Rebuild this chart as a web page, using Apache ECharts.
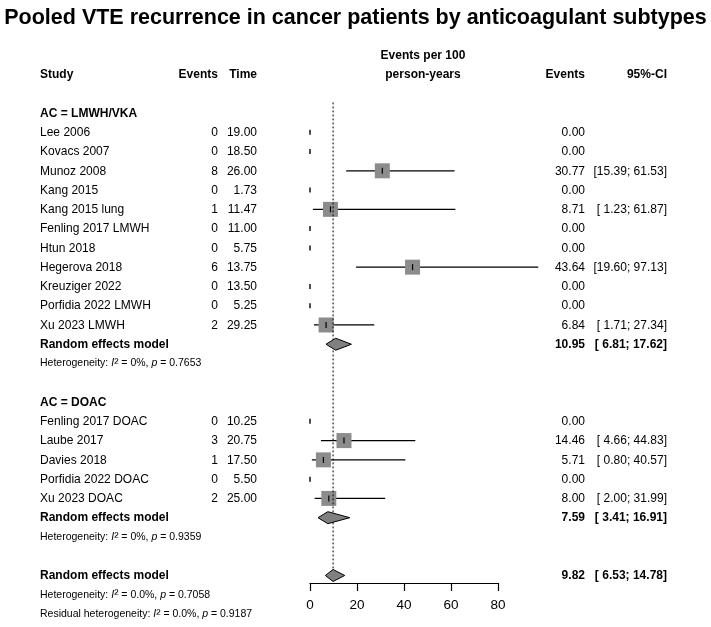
<!DOCTYPE html>
<html>
<head>
<meta charset="utf-8">
<script src="https://cdn.jsdelivr.net/npm/echarts@6/dist/echarts.min.js"></script>
<style>
  html, body { margin: 0; padding: 0; background: #fff; }
  #main { width: 711px; height: 627px; }
</style>
</head>
<body>
<div id="main"></div>
<script>
// AC = LMWH/VKA
const lmwhStudy = ['Lee 2006', 'Kovacs 2007', 'Munoz 2008', 'Kang 2015', 'Kang 2015 lung', 'Fenling 2017 LMWH',
  'Htun 2018', 'Hegerova 2018', 'Kreuziger 2022', 'Porfidia 2022 LMWH', 'Xu 2023 LMWH'];
const lmwhEvents = [0, 0, 8, 0, 1, 0, 0, 6, 0, 0, 2];
const lmwhTime = [19.00, 18.50, 26.00, 1.73, 11.47, 11.00, 5.75, 13.75, 13.50, 5.25, 29.25];
const lmwhRate = [0, 0, 30.77, 0, 8.71, 0, 0, 43.64, 0, 0, 6.84];
const lmwhLower = [null, null, 15.39, null, 1.23, null, null, 19.60, null, null, 1.71];
const lmwhUpper = [null, null, 61.53, null, 61.87, null, null, 97.13, null, null, 27.34];

// AC = DOAC
const doacStudy = ['Fenling 2017 DOAC', 'Laube 2017', 'Davies 2018', 'Porfidia 2022 DOAC', 'Xu 2023 DOAC'];
const doacEvents = [0, 3, 1, 0, 2];
const doacTime = [10.25, 20.75, 17.50, 5.50, 25.00];
const doacRate = [0, 14.46, 5.71, 0, 8.00];
const doacLower = [null, 4.66, 0.80, null, 2.00];
const doacUpper = [null, 44.83, 40.57, null, 31.99];

// pooled estimates: [rate, lower, upper]
const poolLmwh = [10.95, 6.81, 17.62];
const poolDoac = [7.59, 3.41, 16.91];
const poolAll = [9.82, 6.53, 14.78];

// heterogeneity: [I2, p]
const hetLmwh = ['0%', '0.7653'];
const hetDoac = ['0%', '0.9359'];
const hetAll = ['0.0%', '0.7058'];
const hetResid = ['0.0%', '0.9187'];

const xTicks = [0, 20, 40, 60, 80];

const FONT = '"Liberation Sans", Arial, sans-serif';
const f2 = v => v.toFixed(2);
const pad = v => (v < 10 ? ' ' : '') + f2(v);
const ci = (lo, hi) => '[' + pad(lo) + '; ' + pad(hi) + ']';

// build the rows of the table (row index = line on the plot)
let rows = [];
let marks = [];
function addGroup(start, title, study, ev, time, rate, lo, hi, pool, het) {
  rows.push({ row: start, type: 'group', label: title });
  study.forEach((s, i) => {
    const r = start + 1 + i;
    rows.push({
      row: r, type: 'study', label: s, ev: String(ev[i]), time: f2(time[i]),
      rate: f2(rate[i]), ci: lo[i] == null ? '' : ci(lo[i], hi[i])
    });
    if (lo[i] == null) marks.push({ row: r, kind: 'zero', est: rate[i] });
    else marks.push({ row: r, kind: 'study', est: rate[i], lo: lo[i], hi: hi[i] });
  });
  const pr = start + 1 + study.length;
  rows.push({ row: pr, type: 'pool', label: 'Random effects model', rate: f2(pool[0]), ci: ci(pool[1], pool[2]) });
  marks.push({ row: pr, kind: 'pool', est: pool[0], lo: pool[1], hi: pool[2] });
  rows.push({ row: pr + 1, type: 'het', pre: 'Heterogeneity: ', i2: het[0], p: het[1] });
}
addGroup(0, 'AC = LMWH/VKA', lmwhStudy, lmwhEvents, lmwhTime, lmwhRate, lmwhLower, lmwhUpper, poolLmwh, hetLmwh);
addGroup(15, 'AC = DOAC', doacStudy, doacEvents, doacTime, doacRate, doacLower, doacUpper, poolDoac, hetDoac);
rows.push({ row: 24, type: 'pool', label: 'Random effects model', rate: f2(poolAll[0]), ci: ci(poolAll[1], poolAll[2]) });
marks.push({ row: 24, kind: 'pool', est: poolAll[0], lo: poolAll[1], hi: poolAll[2] });
rows.push({ row: 25, type: 'het', pre: 'Heterogeneity: ', i2: hetAll[0], p: hetAll[1] });
rows.push({ row: 26, type: 'het', pre: 'Residual heterogeneity: ', i2: hetResid[0], p: hetResid[1] });
rows.push({ row: -2, type: 'header' });
// reference line at the overall estimate
marks.unshift({ row: -0.55, kind: 'ref', est: poolAll[0], to: 23.7 });

// column positions (px)
const COL = { study: 40, events: 218, time: 257, mid: 423, rate: 585, ci: 667 };

// the reference text is a little narrower than Liberation Sans, so squeeze it
function txt(x, y, text, align, bold) {
  return {
    type: 'text', x: x, y: y, scaleX: 0.89, originX: 0, originY: 0,
    style: {
      text: text, align: align, verticalAlign: 'middle', fill: '#000',
      fontFamily: FONT, fontSize: 13.5, fontWeight: bold ? 'bold' : 'normal'
    }
  };
}

function renderTable(params, api) {
  const r = rows[params.dataIndex];
  const y = api.coord([0, r.row])[1];
  const kids = [];
  if (r.type === 'header') {
    kids.push(txt(COL.study, y, 'Study', 'left', true));
    kids.push(txt(COL.events, y, 'Events', 'right', true));
    kids.push(txt(COL.time, y, 'Time', 'right', true));
    kids.push(txt(COL.mid, y - 19, 'Events per 100', 'center', true));
    kids.push(txt(COL.mid, y, 'person-years', 'center', true));
    kids.push(txt(COL.rate, y, 'Events', 'right', true));
    kids.push(txt(COL.ci, y, '95%-CI', 'right', true));
  } else if (r.type === 'group') {
    kids.push(txt(COL.study, y, r.label, 'left', true));
  } else if (r.type === 'study') {
    kids.push(txt(COL.study, y, r.label, 'left', false));
    kids.push(txt(COL.events, y, r.ev, 'right', false));
    kids.push(txt(COL.time, y, r.time, 'right', false));
    kids.push(txt(COL.rate, y, r.rate, 'right', false));
    if (r.ci) kids.push(txt(COL.ci, y, r.ci, 'right', false));
  } else if (r.type === 'pool') {
    kids.push(txt(COL.study, y, r.label, 'left', true));
    kids.push(txt(COL.rate, y, r.rate, 'right', true));
    kids.push(txt(COL.ci, y, r.ci, 'right', true));
  } else if (r.type === 'het') {
    kids.push({
      type: 'text', x: COL.study, y: y,
      style: {
        text: '{n|' + r.pre + '}{i|I}{s|²}{n| = ' + r.i2 + ', }{i|p}{n| = ' + r.p + '}',
        align: 'left', verticalAlign: 'middle', fill: '#000',
        fontFamily: FONT, fontSize: 10.5,
        rich: {
          n: { fontFamily: FONT, fontSize: 10.5, fill: '#000' },
          i: { fontFamily: FONT, fontSize: 10.5, fontStyle: 'italic', fill: '#000' },
          s: { fontFamily: FONT, fontSize: 13, fill: '#000' }
        }
      }
    });
  }
  return { type: 'group', children: kids };
}

function renderMarks(params, api) {
  const m = marks[params.dataIndex];
  const y = api.coord([0, m.row])[1];
  const px = v => api.coord([v, m.row])[0];
  const x = px(m.est);
  if (m.kind === 'ref') {
    const y2 = api.coord([0, m.to])[1];
    return {
      type: 'line', z2: 20,
      shape: { x1: x, y1: y, x2: x, y2: y2 },
      style: { stroke: '#000', lineWidth: 1, lineDash: [2, 2] }
    };
  }
  if (m.kind === 'zero') {
    return {
      type: 'line',
      shape: { x1: x, y1: y - 2.5, x2: x, y2: y + 2.5 },
      style: { stroke: '#000', lineWidth: 1.4 }
    };
  }
  if (m.kind === 'study') {
    const s = 15;
    return {
      type: 'group', children: [
        { type: 'line', shape: { x1: px(m.lo), y1: y, x2: px(m.hi), y2: y }, style: { stroke: '#000', lineWidth: 1.2 } },
        { type: 'rect', shape: { x: x - s / 2, y: y - s / 2, width: s, height: s }, style: { fill: '#8c8c8c' } },
        { type: 'line', shape: { x1: x, y1: y - 3, x2: x, y2: y + 3 }, style: { stroke: '#000', lineWidth: 1.2 } }
      ]
    };
  }
  // pooled diamond
  const h = 6;
  return {
    type: 'polygon', z2: 30,
    shape: { points: [[px(m.lo), y], [x, y - h], [px(m.hi), y], [x, y + h]] },
    style: { fill: '#808080', stroke: '#000', lineWidth: 1 }
  };
}

const chart = echarts.init(document.getElementById('main'), null, { renderer: 'canvas' });
chart.setOption({
  animation: false,
  backgroundColor: '#fff',
  title: {
    text: 'Pooled VTE recurrence in cancer patients by anticoagulant subtypes',
    left: 'center', top: 2,
    textStyle: { fontFamily: FONT, fontSize: 21.5, fontWeight: 'bold', color: '#000' }
  },
  grid: { left: 310, right: 213, top: 93.73, bottom: 44 },
  xAxis: {
    type: 'value', min: xTicks[0], max: xTicks[xTicks.length - 1], interval: 20,
    axisLine: { show: true, onZero: false, lineStyle: { color: '#000', width: 1.2 } },
    axisTick: { show: true, length: 8, lineStyle: { color: '#000', width: 1.2 } },
    axisLabel: { color: '#000', fontFamily: FONT, fontSize: 13.5, margin: 15 },
    splitLine: { show: false }
  },
  yAxis: { type: 'value', inverse: true, min: -1, max: 24.39, show: false },
  series: [
    {
      type: 'custom', name: 'table', renderItem: renderTable, clip: false, silent: true,
      data: rows.map(r => [0, r.row])
    },
    {
      type: 'custom', name: 'marks', renderItem: renderMarks, clip: false, silent: true,
      data: marks.map(m => [m.est, m.row])
    }
  ]
});
</script>
</body>
</html>
